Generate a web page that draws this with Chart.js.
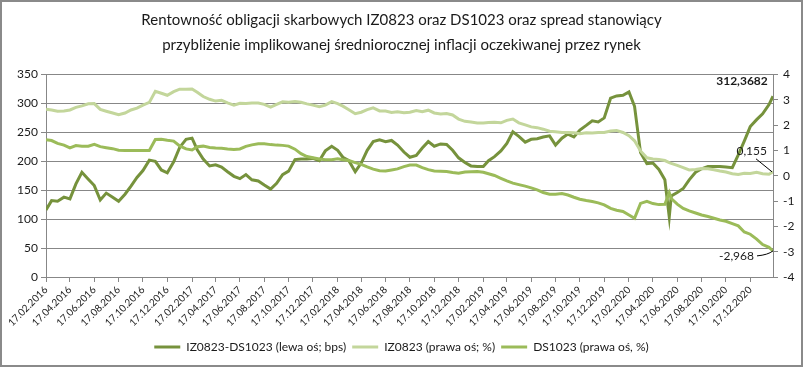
<!DOCTYPE html>
<html>
<head>
<meta charset="utf-8">
<script src="https://cdn.jsdelivr.net/npm/chart.js@4/dist/chart.umd.min.js"></script>
<style>
  html, body { margin: 0; padding: 0; background: #fff; }
  #wrap { width: 803px; height: 367px; }
</style>
</head>
<body>
<div id="wrap"><canvas id="wykres" width="803" height="367"></canvas></div>
<script>
const tytul = [
    "Rentowność obligacji skarbowych IZ0823 oraz DS1023 oraz spread stanowiący",
    "przybliżenie implikowanej średniorocznej inflacji oczekiwanej przez rynek"
];
const nazwySerii = ["IZ0823-DS1023 (lewa oś; bps)", "IZ0823 (prawa oś; %)", "DS1023 (prawa oś, %)"];

// daty odczytow (co pol miesiaca + kilka dodatkowych)
const daty = [
    "17.02.2016","02.03.2016","17.03.2016","02.04.2016","17.04.2016","02.05.2016","17.05.2016","02.06.2016","17.06.2016","02.07.2016",
    "17.07.2016","02.08.2016","17.08.2016","02.09.2016","17.09.2016","02.10.2016","17.10.2016","02.11.2016","17.11.2016","02.12.2016",
    "17.12.2016","02.01.2017","17.01.2017","02.02.2017","17.02.2017","02.03.2017","17.03.2017","02.04.2017","17.04.2017","02.05.2017",
    "17.05.2017","02.06.2017","17.06.2017","02.07.2017","17.07.2017","02.08.2017","17.08.2017","02.09.2017","17.09.2017","02.10.2017",
    "17.10.2017","02.11.2017","17.11.2017","02.12.2017","17.12.2017","02.01.2018","17.01.2018","02.02.2018","17.02.2018","02.03.2018",
    "17.03.2018","02.04.2018","17.04.2018","02.05.2018","17.05.2018","02.06.2018","17.06.2018","02.07.2018","17.07.2018","02.08.2018",
    "17.08.2018","02.09.2018","17.09.2018","02.10.2018","17.10.2018","02.11.2018","17.11.2018","02.12.2018","17.12.2018","02.01.2019",
    "17.01.2019","02.02.2019","17.02.2019","02.03.2019","17.03.2019","02.04.2019","17.04.2019","02.05.2019","17.05.2019","02.06.2019",
    "17.06.2019","02.07.2019","17.07.2019","02.08.2019","17.08.2019","02.09.2019","17.09.2019","02.10.2019","17.10.2019","02.11.2019",
    "17.11.2019","02.12.2019","17.12.2019","02.01.2020","17.01.2020","02.02.2020","17.02.2020","02.03.2020","17.03.2020","02.04.2020",
    "17.04.2020","02.05.2020","17.05.2020","28.05.2020","02.06.2020","17.06.2020","02.07.2020","17.07.2020","02.08.2020","17.08.2020",
    "02.09.2020","17.09.2020","02.10.2020","17.10.2020","02.11.2020","17.11.2020","02.12.2020","17.12.2020","02.01.2021","17.01.2021",
    "02.02.2021","12.02.2021"
];

// IZ0823-DS1023, bps (lewa os)
const spread = [
    116,132,131,138,135,161,181,169,158,133,
    145,138,131,143,157,172,184,202,200,185,
    180,199,224,238,240,220,204,192,194,190,
    182,174,170,177,168,166,159,152,162,177,
    183,203,204,204,205,201,218,226,219,207,
    201,182,197,219,234,237,234,236,228,216,
    207,210,223,234,226,230,229,219,206,198,
    192,191,191,201,208,218,231,251,243,233,
    238,239,242,244,228,240,247,242,254,262,
    270,268,275,309,313,314,320,295,215,196,
    197,186,168,104,140,146,153,168,181,187,
    191,191,191,190,189,211,235,260,272,282,
    298,312.3682
];

// IZ0823, % (prawa os)
const iz0823 = [
    2.63,2.60,2.55,2.56,2.60,2.70,2.76,2.84,2.85,2.62,
    2.55,2.48,2.41,2.48,2.60,2.67,2.79,2.90,3.34,3.26,
    3.18,3.32,3.42,3.42,3.43,3.30,3.13,3.02,2.95,2.98,
    2.88,2.79,2.86,2.85,2.87,2.87,2.82,2.71,2.82,2.92,
    2.90,2.93,2.90,2.84,2.79,2.73,2.79,2.93,2.85,2.75,
    2.61,2.45,2.51,2.61,2.68,2.56,2.56,2.50,2.53,2.49,
    2.51,2.58,2.53,2.59,2.48,2.44,2.46,2.40,2.24,2.15,
    2.12,2.08,2.08,2.10,2.11,2.09,2.19,2.24,2.09,2.01,
    1.93,1.90,1.84,1.76,1.74,1.71,1.71,1.70,1.66,1.70,
    1.69,1.71,1.71,1.77,1.79,1.71,1.58,1.38,0.98,0.71,
    0.66,0.64,0.60,0.52,0.49,0.41,0.32,0.23,0.25,0.29,
    0.28,0.24,0.19,0.15,0.08,0.05,0.10,0.09,0.14,0.08,
    0.06,0.155
];

// DS1023, % (prawa os)
const ds1023 = [
    1.42,1.39,1.28,1.21,1.10,1.19,1.17,1.17,1.24,1.15,
    1.11,1.07,1.01,1.00,1.00,1.00,1.00,1.00,1.43,1.44,
    1.40,1.37,1.18,1.06,1.02,1.15,1.17,1.12,1.10,1.09,
    1.06,1.04,1.06,1.16,1.22,1.26,1.26,1.23,1.21,1.20,
    1.17,1.05,0.87,0.76,0.71,0.66,0.63,0.63,0.67,0.63,
    0.60,0.52,0.45,0.35,0.26,0.20,0.19,0.23,0.27,0.36,
    0.42,0.42,0.32,0.24,0.19,0.18,0.17,0.13,0.10,0.15,
    0.16,0.17,0.14,0.08,0.01,-0.10,-0.20,-0.29,-0.35,-0.41,
    -0.48,-0.56,-0.66,-0.73,-0.73,-0.70,-0.76,-0.85,-0.93,-0.98,
    -1.02,-1.07,-1.15,-1.29,-1.36,-1.41,-1.55,-1.68,-1.09,-1.01,
    -1.10,-1.14,-1.13,-0.67,-0.90,-1.12,-1.29,-1.39,-1.47,-1.55,
    -1.61,-1.68,-1.75,-1.80,-1.89,-1.98,-2.22,-2.31,-2.50,-2.72,
    -2.83,-2.968
];

const etykietyOsiX = [
    "17.02.2016","17.04.2016","17.06.2016","17.08.2016","17.10.2016","17.12.2016",
    "17.02.2017","17.04.2017","17.06.2017","17.08.2017","17.10.2017","17.12.2017",
    "17.02.2018","17.04.2018","17.06.2018","17.08.2018","17.10.2018","17.12.2018",
    "17.02.2019","17.04.2019","17.06.2019","17.08.2019","17.10.2019","17.12.2019",
    "17.02.2020","17.04.2020","17.06.2020","17.08.2020","17.10.2020","17.12.2020"
];
const etykietyKoncowe = ["312,3682", "0,155", "-2,968"];

const kolory = ["#76923C", "#C3D69B", "#9BBB59"];
const szary = "#878787";
const czcionka = "Lato";

// dzien liczony od 17.02.2016
function dzien(s) {
    const [d, m, r] = s.split(".").map(Number);
    return (Date.UTC(r, m - 1, d) - Date.UTC(2016, 1, 17)) / 864e5;
}

const punkty = (wartosci) => wartosci.map((v, i) => ({ x: dzien(daty[i]), y: v }));

const tloIRamka = {
    id: "tloIRamka",
    beforeDraw(chart) {
        const c = chart.ctx;
        c.save();
        c.fillStyle = "#fff";
        c.fillRect(0, 0, chart.width, chart.height);
        c.restore();
    },
    afterDraw(chart) {
        const c = chart.ctx;
        c.save();
        c.strokeStyle = "#8a8a8a";
        c.lineWidth = 2;
        c.strokeRect(1, 1, chart.width - 2, chart.height - 2);
        c.restore();
    }
};

// etykiety ostatnich wartosci
const etykietyKonca = {
    id: "etykietyKonca",
    afterDatasetsDraw(chart) {
        const c = chart.ctx;
        const ost = (i) => {
            const meta = chart.getDatasetMeta(i);
            const p = meta.data[meta.data.length - 1];
            return { x: p.x, y: p.y };
        };
        c.save();
        c.fillStyle = "#1a1a1a";
        c.textBaseline = "middle";

        const a = ost(0);
        c.font = "bold 12px " + czcionka;
        c.textAlign = "center";
        c.fillText(etykietyKoncowe[0], a.x - 31, a.y - 15);

        const b = ost(1);
        c.font = "12px " + czcionka;
        c.textAlign = "right";
        c.fillText(etykietyKoncowe[1], b.x - 6, b.y - 21);
        c.strokeStyle = "#000";
        c.lineWidth = 1;
        c.beginPath();
        c.moveTo(b.x - 17, b.y - 13);
        c.lineTo(b.x - 1, b.y);
        c.stroke();

        const d = ost(2);
        c.fillText(etykietyKoncowe[2], d.x - 19, d.y + 5);
        c.beginPath();
        c.moveTo(d.x - 16, d.y + 5);
        c.quadraticCurveTo(d.x - 5, d.y + 4, d.x, d.y);
        c.stroke();
        c.restore();
    }
};

const seria = (i, dane, os, kolejnosc) => ({
    label: nazwySerii[i],
    data: punkty(dane),
    yAxisID: os,
    borderColor: kolory[i],
    backgroundColor: kolory[i],
    borderWidth: 3,
    pointRadius: 0,
    tension: 0,
    order: kolejnosc
});

new Chart(document.getElementById("wykres"), {
    type: "line",
    data: {
        datasets: [
            seria(0, spread, "y", 3),
            seria(1, iz0823, "y1", 2),
            seria(2, ds1023, "y1", 1)
        ]
    },
    options: {
        responsive: false,
        animation: false,
        devicePixelRatio: 1,
        layout: { padding: { left: 0, right: 0, top: 0, bottom: 4 } },
        scales: {
            x: {
                type: "linear",
                min: 0,
                max: dzien(daty[daty.length - 1]),
                afterBuildTicks: (s) => { s.ticks = etykietyOsiX.map(t => ({ value: dzien(t) })); },
                afterFit: (s) => { s.height = 58; },
                ticks: {
                    autoSkip: false,
                    minRotation: 45,
                    maxRotation: 45,
                    padding: 2,
                    color: "#1a1a1a",
                    font: { family: czcionka, size: 10 },
                    callback: (v, i) => etykietyOsiX[i]
                },
                grid: { drawOnChartArea: false, drawTicks: true, tickLength: 5, color: szary },
                border: { color: szary }
            },
            y: {
                position: "left",
                min: 0,
                max: 350,
                afterFit: (s) => { s.width = 46; },
                ticks: { stepSize: 50, padding: 3, color: "#1a1a1a", font: { family: czcionka, size: 12 } },
                grid: { color: szary, tickLength: 5 },
                border: { color: szary }
            },
            y1: {
                position: "right",
                min: -4,
                max: 4,
                afterFit: (s) => { s.width = 30; },
                ticks: { stepSize: 1, padding: 5, color: "#1a1a1a", font: { family: czcionka, size: 12 } },
                grid: { drawOnChartArea: false, tickLength: 5, color: szary },
                border: { color: szary }
            }
        },
        plugins: {
            title: {
                display: true,
                text: tytul,
                color: "#1a1a1a",
                font: { family: czcionka, size: 15, weight: "normal", lineHeight: 1.65 },
                padding: { top: 8, bottom: 17 }
            },
            legend: {
                position: "bottom",
                labels: {
                    usePointStyle: true,
                    pointStyle: "line",
                    pointStyleWidth: 26,
                    padding: 6,
                    color: "#1a1a1a",
                    font: { family: czcionka, size: 12 },
                    sort: (a, b) => a.datasetIndex - b.datasetIndex
                }
            },
            tooltip: { enabled: false }
        }
    },
    plugins: [tloIRamka, etykietyKonca]
});
</script>
</body>
</html>
